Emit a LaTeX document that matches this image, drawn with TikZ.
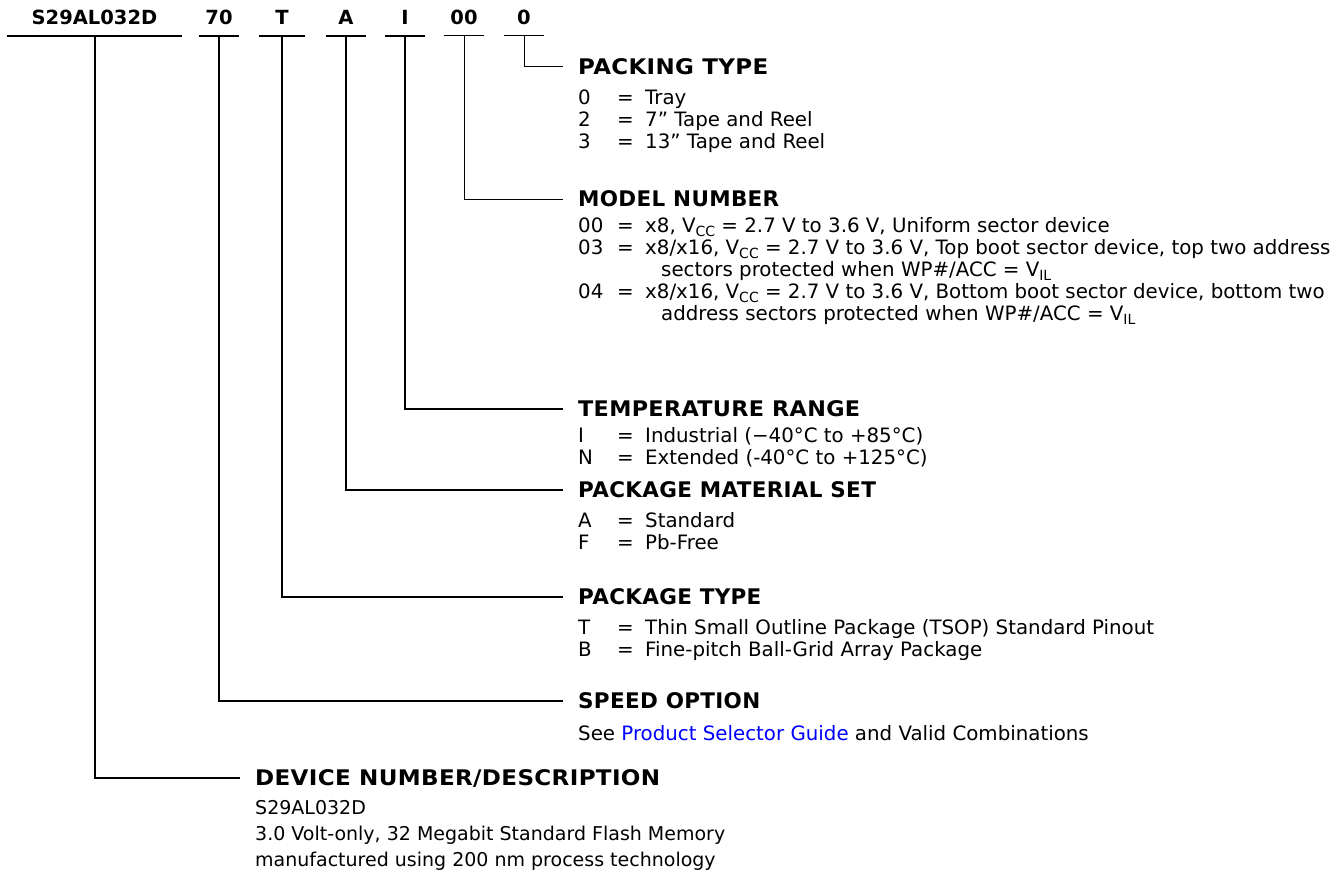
\documentclass[tikz,border=0pt]{standalone}
\usepackage{fontspec}
\setmainfont{DejaVu Sans}
\newfontfamily\hnorm[LetterSpace=1.5]{DejaVu Sans}
\usepackage{graphicx}
\newcommand\fitw[2]{\resizebox{#1pt}{\height}{#2}}
\newcommand\sbs[1]{\raisebox{-4pt}{\fontsize{14}{14}\selectfont #1}}
\definecolor{linkblue}{RGB}{0,0,255}
\tikzset{
  code/.style={inner xsep=0pt, inner ysep=11pt, text height=14pt, text depth=0pt, anchor=south, font=\bfseries\fontsize{19.5}{22}\selectfont},
  head/.style={inner sep=0pt, text height=15pt, text depth=0pt, anchor=west, font=\hnorm\bfseries\fontsize{21.5}{24}\selectfont},
  body/.style={inner sep=0pt, anchor=base west, font=\fontsize{19.8}{23}\selectfont},
  dbody/.style={body, font=\fontsize{19}{22}\selectfont},
  thickln/.style={line width=2pt},
  thinln/.style={line width=1pt},
  leader/.style={shorten >=15pt}
}
\newcommand\itemrow[4]{%
  \node[body] (#1k) at (578,#2) {#3};
  \node[body] (#1e) at (617,#2) {=};
  \node[body] (#1v) at (645,#2) {#4};}
\begin{document}
\begin{tikzpicture}[x=1pt,y=-1pt]
\useasboundingbox (0,0) rectangle (1344,875);
% part-number fields
\node[code, minimum width=175pt] (cS)  at (94.5,36) {S29AL032D};
\node[code, minimum width=40pt]  (c70) at (219,36) {70};
\node[code, minimum width=46pt]  (cT)  at (282,36) {T};
\node[code, minimum width=40pt]  (cA)  at (346,36) {A};
\node[code, minimum width=40pt]  (cI)  at (405,36) {I};
\node[code, minimum width=40pt]  (c00) at (464,36) {00};
\node[code, minimum width=40pt]  (c0)  at (524,36) {0};
\foreach \n in {cS,c70,cT,cA,cI} \draw[thickln] (\n.south west) -- (\n.south east);
\foreach \n in {c00,c0} \draw[thinln] (\n.south west) -- (\n.south east);
% headings
\node[head] (hPack)  at (578,67)  {\fitw{190}{PACKING TYPE}};
\node[head] (hModel) at (578,199) {MODEL NUMBER};
\node[head] (hTemp)  at (578,409) {\fitw{282}{TEMPERATURE RANGE}};
\node[head] (hMat)   at (578,490) {PACKAGE MATERIAL SET};
\node[head] (hPT)    at (578,597) {PACKAGE TYPE};
\node[head] (hSpeed) at (578,701) {SPEED OPTION};
\node[head] (hDev)   at (255,778) {\fitw{405}{DEVICE NUMBER/DESCRIPTION}};
% connectors
\draw[thinln,leader]  (c0.south)  |- (hPack.west);
\draw[thinln,leader]  (c00.south) |- (hModel.west);
\draw[thickln,leader] (cI.south)  |- (hTemp.west);
\draw[thickln,leader] (cA.south)  |- (hMat.west);
\draw[thickln,leader] (cT.south)  |- (hPT.west);
\draw[thickln,leader] (c70.south) |- (hSpeed.west);
\draw[thickln,leader] (cS.south)  |- (hDev.west);
% packing type
\itemrow{pa}{104}{0}{Tray}
\itemrow{pb}{126}{2}{7” Tape and Reel}
\itemrow{pc}{148}{3}{13” Tape and Reel}
% model number
\itemrow{ma}{232}{00}{x8, V\sbs{CC} = 2.7 V to 3.6 V, Uniform sector device}
\itemrow{mb}{254}{03}{x8/x16, V\sbs{CC} = 2.7 V to 3.6 V, Top boot sector device, top two address}
\node[body] (mbc) at (661,276) {sectors protected when WP\#/ACC = V\sbs{IL}};
\itemrow{mc}{298}{04}{x8/x16, V\sbs{CC} = 2.7 V to 3.6 V, Bottom boot sector device, bottom two}
\node[body] (mcc) at (661,320) {address sectors protected when WP\#/ACC = V\sbs{IL}};
% temperature
\itemrow{ta}{442}{I}{Industrial (−40°C to +85°C)}
\itemrow{tb}{464}{N}{Extended (-40°C to +125°C)}
% material
\itemrow{sa}{527}{A}{Standard}
\itemrow{sb}{549}{F}{Pb-Free}
% package type
\itemrow{ka}{634}{T}{Thin Small Outline Package (TSOP) Standard Pinout}
\itemrow{kb}{656}{B}{Fine-pitch Ball-Grid Array Package}
% speed
\node[body] (sp) at (578,740) {See \textcolor{linkblue}{Product Selector Guide} and Valid Combinations};
% device
\node[dbody] (da) at (255,814) {S29AL032D};
\node[dbody] (db) at (255,840) {3.0 Volt-only, 32 Megabit Standard Flash Memory};
\node[dbody] (dc) at (255,866) {manufactured using 200 nm process technology};
\end{tikzpicture}
\end{document}
